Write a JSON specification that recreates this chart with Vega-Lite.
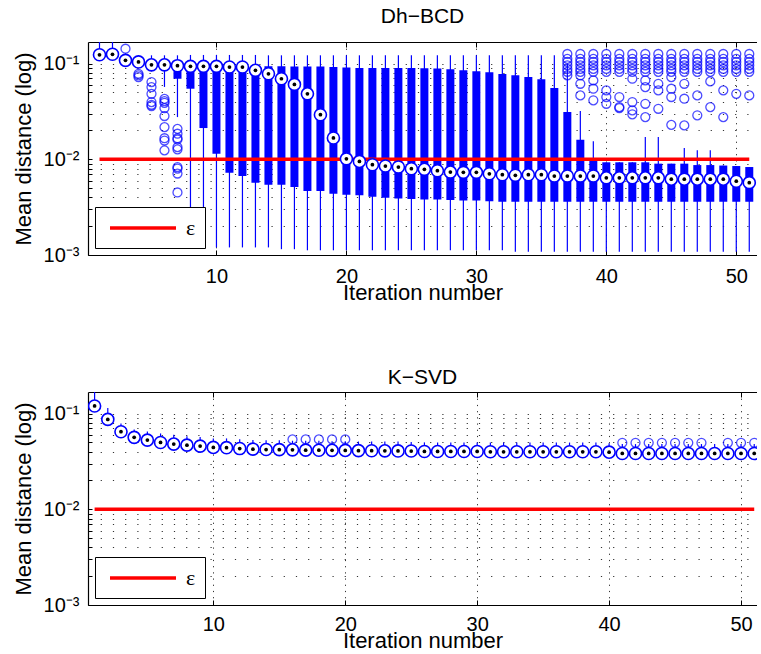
{
  "$schema": "https://vega.github.io/schema/vega-lite/v6.json",
  "padding": {"left": 12, "top": 5, "right": 0, "bottom": 0},
  "autosize": {"type": "pad"},
  "config": {
    "view": {"stroke": null},
    "font": "Liberation Sans",
    "axis": {"domainColor": "black", "tickColor": "black", "labelColor": "black", "titleColor": "black", "labelFont": "Liberation Sans", "titleFont": "Liberation Sans", "titleFontWeight": "normal", "domainWidth": 1.2, "tickWidth": 1},
    "axisY": {"values": [0.001,0.002,0.003,0.004,0.005,0.006,0.007,0.008,0.009,0.01,0.02,0.03,0.04,0.05,0.06,0.07,0.08,0.09,0.1],
      "labelExpr": "datum.value == 0.1 ? '10⁻¹' : datum.value == 0.01 ? '10⁻²' : datum.value == 0.001 ? '10⁻³' : ''",
      "titleFontSize": 22, "titlePadding": 8,
      "labelFontSize": 20, "labelPadding": 13, "tickSize": -4, "grid": true, "gridDash": [1.2, 11], "gridColor": "#333", "labelOverlap": false}
  },
  "datasets": {
    "eps": [{"x1": 1, "x2": 51, "v": 0.01, "label": "ε"}],
    "box1": [
      {"i":1,"lo":0.112,"q1":0.116,"med":0.1236,"q3":0.13,"hi":0.2},
      {"i":2,"lo":0.112,"q1":0.117,"med":0.125,"q3":0.132,"hi":0.2},
      {"i":3,"lo":0.097,"q1":0.102,"med":0.108,"q3":0.115,"hi":0.128},
      {"i":4,"lo":0.092,"q1":0.098,"med":0.104,"q3":0.11,"hi":0.122},
      {"i":5,"lo":0.083,"q1":0.09,"med":0.097,"q3":0.105,"hi":0.122},
      {"i":6,"lo":0.057,"q1":0.088,"med":0.097,"q3":0.105,"hi":0.122},
      {"i":7,"lo":0.0276,"q1":0.0694,"med":0.095,"q3":0.09,"hi":0.122},
      {"i":8,"lo":0.0015,"q1":0.0546,"med":0.0935,"q3":0.095,"hi":0.123},
      {"i":9,"lo":0.0012,"q1":0.0212,"med":0.0935,"q3":0.095,"hi":0.123},
      {"i":10,"lo":0.0012,"q1":0.0114,"med":0.0935,"q3":0.095,"hi":0.123},
      {"i":11,"lo":0.0012,"q1":0.00723,"med":0.092,"q3":0.095,"hi":0.123},
      {"i":12,"lo":0.0012,"q1":0.00668,"med":0.092,"q3":0.094,"hi":0.123},
      {"i":13,"lo":0.0012,"q1":0.00569,"med":0.085,"q3":0.0935,"hi":0.123},
      {"i":14,"lo":0.0012,"q1":0.00543,"med":0.0782,"q3":0.0935,"hi":0.122},
      {"i":15,"lo":0.00115,"q1":0.00542,"med":0.0694,"q3":0.0935,"hi":0.122},
      {"i":16,"lo":0.00115,"q1":0.00513,"med":0.0606,"q3":0.093,"hi":0.122},
      {"i":17,"lo":0.00112,"q1":0.00466,"med":0.0483,"q3":0.093,"hi":0.122},
      {"i":18,"lo":0.00112,"q1":0.00466,"med":0.0292,"q3":0.093,"hi":0.122},
      {"i":19,"lo":0.00112,"q1":0.00437,"med":0.0167,"q3":0.092,"hi":0.122},
      {"i":20,"lo":0.00112,"q1":0.00426,"med":0.0101,"q3":0.091,"hi":0.122},
      {"i":21,"lo":0.00112,"q1":0.0042,"med":0.0095,"q3":0.09,"hi":0.122},
      {"i":22,"lo":0.00112,"q1":0.00406,"med":0.00877,"q3":0.09,"hi":0.122},
      {"i":23,"lo":0.00112,"q1":0.00396,"med":0.0085,"q3":0.09,"hi":0.122},
      {"i":24,"lo":0.00112,"q1":0.0039,"med":0.0083,"q3":0.09,"hi":0.122},
      {"i":25,"lo":0.00112,"q1":0.00385,"med":0.00797,"q3":0.09,"hi":0.122},
      {"i":26,"lo":0.00112,"q1":0.0038,"med":0.00785,"q3":0.0895,"hi":0.122},
      {"i":27,"lo":0.00112,"q1":0.0038,"med":0.00759,"q3":0.089,"hi":0.122},
      {"i":28,"lo":0.00112,"q1":0.00375,"med":0.00735,"q3":0.087,"hi":0.122},
      {"i":29,"lo":0.00112,"q1":0.0037,"med":0.0073,"q3":0.085,"hi":0.122},
      {"i":30,"lo":0.00112,"q1":0.0037,"med":0.0073,"q3":0.083,"hi":0.122},
      {"i":31,"lo":0.00112,"q1":0.00365,"med":0.00706,"q3":0.081,"hi":0.122},
      {"i":32,"lo":0.00112,"q1":0.0036,"med":0.0069,"q3":0.078,"hi":0.122},
      {"i":33,"lo":0.00108,"q1":0.0036,"med":0.0068,"q3":0.0753,"hi":0.122},
      {"i":34,"lo":0.00108,"q1":0.0036,"med":0.0069,"q3":0.0722,"hi":0.122},
      {"i":35,"lo":0.00108,"q1":0.0036,"med":0.0069,"q3":0.0684,"hi":0.122},
      {"i":36,"lo":0.00108,"q1":0.0036,"med":0.00668,"q3":0.0555,"hi":0.122},
      {"i":37,"lo":0.00108,"q1":0.0036,"med":0.00668,"q3":0.0311,"hi":0.1},
      {"i":38,"lo":0.00108,"q1":0.0036,"med":0.00668,"q3":0.016,"hi":0.032},
      {"i":39,"lo":0.00108,"q1":0.0036,"med":0.00668,"q3":0.0098,"hi":0.0154},
      {"i":40,"lo":0.00108,"q1":0.0036,"med":0.0064,"q3":0.0093,"hi":0.0093},
      {"i":41,"lo":0.00108,"q1":0.0036,"med":0.0064,"q3":0.0093,"hi":0.0093},
      {"i":42,"lo":0.00108,"q1":0.0036,"med":0.0064,"q3":0.0093,"hi":0.0093},
      {"i":43,"lo":0.00108,"q1":0.0036,"med":0.0064,"q3":0.0093,"hi":0.0171},
      {"i":44,"lo":0.00108,"q1":0.0036,"med":0.0064,"q3":0.009,"hi":0.0171},
      {"i":45,"lo":0.00108,"q1":0.0036,"med":0.0062,"q3":0.009,"hi":0.009},
      {"i":46,"lo":0.00108,"q1":0.0036,"med":0.0062,"q3":0.009,"hi":0.0131},
      {"i":47,"lo":0.00108,"q1":0.0036,"med":0.0062,"q3":0.0087,"hi":0.0124},
      {"i":48,"lo":0.00108,"q1":0.0036,"med":0.0062,"q3":0.0087,"hi":0.0124},
      {"i":49,"lo":0.00108,"q1":0.0036,"med":0.0062,"q3":0.0086,"hi":0.0086},
      {"i":50,"lo":0.00108,"q1":0.0036,"med":0.0059,"q3":0.0085,"hi":0.0085},
      {"i":51,"lo":0.00108,"q1":0.0036,"med":0.0057,"q3":0.0083,"hi":0.0083}
    ],
    "out1": [
      {"i":3,"v":0.143},
      {"i":4,"v":0.0782},{"i":4,"v":0.0753},{"i":4,"v":0.0722},
      {"i":5,"v":0.0641},{"i":5,"v":0.0568},{"i":5,"v":0.0483},{"i":5,"v":0.0396},{"i":5,"v":0.0371},{"i":5,"v":0.036},
      {"i":6,"v":0.0428},{"i":6,"v":0.0405},{"i":6,"v":0.0389},{"i":6,"v":0.0343},{"i":6,"v":0.0283},{"i":6,"v":0.0217},{"i":6,"v":0.0166},{"i":6,"v":0.0157},{"i":6,"v":0.0124},
      {"i":7,"v":0.0208},{"i":7,"v":0.0185},{"i":7,"v":0.0166},{"i":7,"v":0.0161},{"i":7,"v":0.0134},{"i":7,"v":0.0127},{"i":7,"v":0.0083},{"i":7,"v":0.008},{"i":7,"v":0.0071},{"i":7,"v":0.0045},
      {"i":37,"v":0.126},{"i":37,"v":0.112},{"i":37,"v":0.104},{"i":37,"v":0.096},{"i":37,"v":0.088},{"i":37,"v":0.082},{"i":37,"v":0.0753},
      {"i":38,"v":0.126},{"i":38,"v":0.112},{"i":38,"v":0.104},{"i":38,"v":0.096},{"i":38,"v":0.088},{"i":38,"v":0.082},{"i":38,"v":0.0753},{"i":38,"v":0.0615},{"i":38,"v":0.0465},
      {"i":39,"v":0.126},{"i":39,"v":0.112},{"i":39,"v":0.104},{"i":39,"v":0.096},{"i":39,"v":0.088},{"i":39,"v":0.082},{"i":39,"v":0.0667},{"i":39,"v":0.0546},{"i":39,"v":0.0413},
      {"i":40,"v":0.126},{"i":40,"v":0.112},{"i":40,"v":0.104},{"i":40,"v":0.096},{"i":40,"v":0.088},{"i":40,"v":0.082},{"i":40,"v":0.0525},{"i":40,"v":0.0447},{"i":40,"v":0.038},
      {"i":41,"v":0.126},{"i":41,"v":0.112},{"i":41,"v":0.104},{"i":41,"v":0.096},{"i":41,"v":0.088},{"i":41,"v":0.082},{"i":41,"v":0.0447},{"i":41,"v":0.0351},{"i":41,"v":0.0343},
      {"i":42,"v":0.126},{"i":42,"v":0.112},{"i":42,"v":0.104},{"i":42,"v":0.096},{"i":42,"v":0.088},{"i":42,"v":0.082},{"i":42,"v":0.0694},{"i":42,"v":0.0396},{"i":42,"v":0.0324},{"i":42,"v":0.0295},
      {"i":43,"v":0.126},{"i":43,"v":0.112},{"i":43,"v":0.104},{"i":43,"v":0.096},{"i":43,"v":0.088},{"i":43,"v":0.082},{"i":43,"v":0.0667},{"i":43,"v":0.0568},{"i":43,"v":0.038},{"i":43,"v":0.0276},
      {"i":44,"v":0.126},{"i":44,"v":0.112},{"i":44,"v":0.104},{"i":44,"v":0.096},{"i":44,"v":0.088},{"i":44,"v":0.082},{"i":44,"v":0.0615},{"i":44,"v":0.0525},{"i":44,"v":0.0337},
      {"i":45,"v":0.126},{"i":45,"v":0.112},{"i":45,"v":0.104},{"i":45,"v":0.096},{"i":45,"v":0.088},{"i":45,"v":0.082},{"i":45,"v":0.0722},{"i":45,"v":0.0546},{"i":45,"v":0.0447},{"i":45,"v":0.0229},
      {"i":46,"v":0.126},{"i":46,"v":0.112},{"i":46,"v":0.104},{"i":46,"v":0.096},{"i":46,"v":0.088},{"i":46,"v":0.082},{"i":46,"v":0.0615},{"i":46,"v":0.0429},{"i":46,"v":0.0226},
      {"i":47,"v":0.126},{"i":47,"v":0.112},{"i":47,"v":0.104},{"i":47,"v":0.096},{"i":47,"v":0.088},{"i":47,"v":0.082},{"i":47,"v":0.0465},{"i":47,"v":0.0288},
      {"i":48,"v":0.126},{"i":48,"v":0.112},{"i":48,"v":0.104},{"i":48,"v":0.096},{"i":48,"v":0.088},{"i":48,"v":0.082},{"i":48,"v":0.0651},{"i":48,"v":0.0351},
      {"i":49,"v":0.126},{"i":49,"v":0.112},{"i":49,"v":0.104},{"i":49,"v":0.096},{"i":49,"v":0.088},{"i":49,"v":0.082},{"i":49,"v":0.0525},{"i":49,"v":0.0276},
      {"i":50,"v":0.126},{"i":50,"v":0.112},{"i":50,"v":0.104},{"i":50,"v":0.096},{"i":50,"v":0.088},{"i":50,"v":0.082},{"i":50,"v":0.0483},
      {"i":51,"v":0.126},{"i":51,"v":0.112},{"i":51,"v":0.104},{"i":51,"v":0.096},{"i":51,"v":0.088},{"i":51,"v":0.082},{"i":51,"v":0.0465}
    ],
    "box2": [
      {"i":1,"med":0.12,"hi":0.2},{"i":2,"med":0.0869,"hi":0.114},{"i":3,"med":0.0646,"hi":0.0789},{"i":4,"med":0.0564,"hi":0.0683},
      {"i":5,"med":0.0528,"hi":0.065},{"i":6,"med":0.0499,"hi":0.062},{"i":7,"med":0.048,"hi":0.06},{"i":8,"med":0.0468,"hi":0.058},
      {"i":9,"med":0.0457,"hi":0.057},{"i":10,"med":0.0443,"hi":0.055},{"i":11,"med":0.044,"hi":0.055},{"i":12,"med":0.0431,"hi":0.054},
      {"i":13,"med":0.0425,"hi":0.053},{"i":14,"med":0.0421,"hi":0.0525},{"i":15,"med":0.042,"hi":0.0525},{"i":16,"med":0.0418,"hi":0.052},
      {"i":17,"med":0.0415,"hi":0.052},{"i":18,"med":0.0414,"hi":0.052},{"i":19,"med":0.0413,"hi":0.0515},{"i":20,"med":0.0412,"hi":0.0515},
      {"i":21,"med":0.041,"hi":0.051},{"i":22,"med":0.0409,"hi":0.051},{"i":23,"med":0.0408,"hi":0.051},{"i":24,"med":0.0407,"hi":0.051},
      {"i":25,"med":0.0406,"hi":0.0505},{"i":26,"med":0.0402,"hi":0.05},{"i":27,"med":0.0402,"hi":0.05},{"i":28,"med":0.0402,"hi":0.05},
      {"i":29,"med":0.0402,"hi":0.05},{"i":30,"med":0.0402,"hi":0.05},{"i":31,"med":0.0399,"hi":0.0498},{"i":32,"med":0.0399,"hi":0.0498},
      {"i":33,"med":0.0399,"hi":0.0498},{"i":34,"med":0.0399,"hi":0.0498},{"i":35,"med":0.0399,"hi":0.0498},{"i":36,"med":0.0399,"hi":0.0498},
      {"i":37,"med":0.0399,"hi":0.0498},{"i":38,"med":0.0399,"hi":0.0498},{"i":39,"med":0.0399,"hi":0.0498},{"i":40,"med":0.0395,"hi":0.049},
      {"i":41,"med":0.0383,"hi":0.048},{"i":42,"med":0.0383,"hi":0.048},{"i":43,"med":0.0383,"hi":0.048},{"i":44,"med":0.0383,"hi":0.048},
      {"i":45,"med":0.0383,"hi":0.048},{"i":46,"med":0.0383,"hi":0.048},{"i":47,"med":0.0383,"hi":0.048},{"i":48,"med":0.0383,"hi":0.048},
      {"i":49,"med":0.0383,"hi":0.048},{"i":50,"med":0.0383,"hi":0.048},{"i":51,"med":0.0383,"hi":0.048}
    ],
    "out2": [
      {"i":16,"v":0.0537},{"i":17,"v":0.0537},{"i":18,"v":0.0537},{"i":19,"v":0.0537},{"i":20,"v":0.0537},
      {"i":41,"v":0.0495},{"i":42,"v":0.0495},{"i":43,"v":0.0495},{"i":44,"v":0.0495},{"i":45,"v":0.0495},
      {"i":46,"v":0.0495},{"i":47,"v":0.0495},{"i":49,"v":0.0495},{"i":50,"v":0.0495},{"i":51,"v":0.0495}
    ]
  },
  "resolve": {"scale": {"stroke": "independent"}, "legend": {"stroke": "independent"}},
  "spacing": 63,
  "vconcat": [
    {
      "title": {"text": "Dh−BCD", "fontSize": 21, "fontWeight": "normal", "font": "Liberation Sans", "color": "black", "anchor": "middle", "frame": "group", "baseline": "alphabetic", "offset": -2},
      "width": 669,
      "height": 213,
      "resolve": {"axis": {"x": "independent"}},
      "layer": [
        {
          "data": {"name": "box1"},
          "mark": {"type": "rule", "color": "#0000ff", "strokeWidth": 1.2, "clip": true},
          "encoding": {
            "x": {"field": "i", "type": "quantitative", "scale": {"domain": [0.5, 51.21], "nice": false, "zero": false},
              "axis": {"orient": "bottom", "values": [10, 20, 30, 40, 50], "title": "Iteration number", "titleFontSize": 22, "titleBaseline": "alphabetic", "titleY": 44, "labelFontSize": 20, "labelPadding": 16, "tickSize": -5, "grid": true, "gridDash": [1.2, 5], "gridColor": "#333", "labelFlush": false}},
            "y": {"field": "lo", "type": "quantitative", "scale": {"type": "log", "domain": [0.001, 0.168], "nice": false}, "title": "Mean distance (log)"},
            "y2": {"field": "hi"}
          }
        },
        {
          "data": {"name": "box1"},
          "mark": {"type": "bar", "color": "#0000ff", "size": 8, "clip": true},
          "encoding": {
            "x": {"field": "i", "type": "quantitative", "scale": {"domain": [0.5, 51.21], "nice": false, "zero": false}, "axis": null},
            "y": {"field": "q1", "type": "quantitative", "scale": {"type": "log", "domain": [0.001, 0.168], "nice": false}, "title": "Mean distance (log)"},
            "y2": {"field": "q3"}
          }
        },
        {
          "data": {"name": "eps"},
          "mark": {"type": "rule", "strokeWidth": 3.5, "clip": true},
          "encoding": {
            "x": {"field": "x1", "type": "quantitative", "scale": {"domain": [0.5, 51.21], "nice": false, "zero": false}, "axis": null},
            "x2": {"field": "x2"},
            "y": {"field": "v", "type": "quantitative", "scale": {"type": "log", "domain": [0.001, 0.168], "nice": false}, "title": "Mean distance (log)"},
            "stroke": {"field": "label", "type": "nominal", "scale": {"domain": ["ε"], "range": ["#ff0000"]},
              "legend": {"orient": "bottom-left", "offset": 7, "title": null, "fillColor": "white", "strokeColor": "black", "padding": 9,
                "symbolType": "M-0.6,0H6", "symbolSize": 400, "symbolStrokeWidth": 3.5, "labelOffset": 58,
                "labelFont": "Liberation Serif", "labelFontSize": 22, "labelColor": "black"}}
          }
        },
        {
          "data": {"name": "out1"},
          "mark": {"type": "point", "shape": "circle", "filled": false, "color": "#0000ff", "size": 80, "strokeWidth": 1.3, "clip": true},
          "encoding": {
            "x": {"field": "i", "type": "quantitative", "scale": {"domain": [0.5, 51.21], "nice": false, "zero": false}, "axis": null},
            "y": {"field": "v", "type": "quantitative", "scale": {"type": "log", "domain": [0.001, 0.168], "nice": false}, "title": "Mean distance (log)"}
          }
        },
        {
          "data": {"name": "box1"},
          "mark": {"type": "point", "shape": "circle", "filled": true, "fill": "white", "fillOpacity": 1, "stroke": "#0000ff", "strokeWidth": 1.6, "size": 145, "clip": true},
          "encoding": {
            "x": {"field": "i", "type": "quantitative", "scale": {"domain": [0.5, 51.21], "nice": false, "zero": false},
              "axis": {"orient": "top", "values": [10, 20, 30, 40, 50], "labels": false, "title": null, "tickSize": -5, "grid": false}},
            "y": {"field": "med", "type": "quantitative", "scale": {"type": "log", "domain": [0.001, 0.168], "nice": false}, "title": "Mean distance (log)"}
          }
        },
        {
          "data": {"name": "box1"},
          "mark": {"type": "point", "shape": "circle", "filled": true, "color": "black", "opacity": 1, "size": 14, "clip": true},
          "encoding": {
            "x": {"field": "i", "type": "quantitative", "scale": {"domain": [0.5, 51.21], "nice": false, "zero": false}, "axis": null},
            "y": {"field": "med", "type": "quantitative", "scale": {"type": "log", "domain": [0.001, 0.168], "nice": false}, "title": "Mean distance (log)"}
          }
        }
      ]
    },
    {
      "title": {"text": "K−SVD", "fontSize": 21, "fontWeight": "normal", "font": "Liberation Sans", "color": "black", "anchor": "middle", "frame": "group", "baseline": "alphabetic", "offset": -13},
      "width": 669,
      "height": 213,
      "resolve": {"axis": {"x": "independent"}},
      "layer": [
        {
          "data": {"name": "box2"},
          "mark": {"type": "rule", "color": "#0000ff", "strokeWidth": 1.2, "clip": true},
          "encoding": {
            "x": {"field": "i", "type": "quantitative", "scale": {"domain": [0.5, 51.21], "nice": false, "zero": false},
              "axis": {"orient": "bottom", "values": [10, 20, 30, 40, 50], "title": "Iteration number", "titleFontSize": 22, "titleBaseline": "alphabetic", "titleY": 42, "labelFontSize": 20, "labelPadding": 14.5, "tickSize": -5, "grid": true, "gridDash": [1.2, 5], "gridColor": "#333", "labelFlush": false}},
            "y": {"field": "med", "type": "quantitative", "scale": {"type": "log", "domain": [0.001, 0.168], "nice": false}, "title": "Mean distance (log)"},
            "y2": {"field": "hi"}
          }
        },
        {
          "data": {"name": "eps"},
          "mark": {"type": "rule", "strokeWidth": 3.5, "clip": true},
          "encoding": {
            "x": {"field": "x1", "type": "quantitative", "scale": {"domain": [0.5, 51.21], "nice": false, "zero": false}, "axis": null},
            "x2": {"field": "x2"},
            "y": {"field": "v", "type": "quantitative", "scale": {"type": "log", "domain": [0.001, 0.168], "nice": false}, "title": "Mean distance (log)"},
            "stroke": {"field": "label", "type": "nominal", "scale": {"domain": ["ε"], "range": ["#ff0000"]},
              "legend": {"orient": "bottom-left", "offset": 7, "title": null, "fillColor": "white", "strokeColor": "black", "padding": 9,
                "symbolType": "M-0.6,0H6", "symbolSize": 400, "symbolStrokeWidth": 3.5, "labelOffset": 58,
                "labelFont": "Liberation Serif", "labelFontSize": 22, "labelColor": "black"}}
          }
        },
        {
          "data": {"name": "out2"},
          "mark": {"type": "point", "shape": "circle", "filled": false, "color": "#0000ff", "size": 80, "strokeWidth": 1.3, "clip": true},
          "encoding": {
            "x": {"field": "i", "type": "quantitative", "scale": {"domain": [0.5, 51.21], "nice": false, "zero": false}, "axis": null},
            "y": {"field": "v", "type": "quantitative", "scale": {"type": "log", "domain": [0.001, 0.168], "nice": false}, "title": "Mean distance (log)"}
          }
        },
        {
          "data": {"name": "box2"},
          "mark": {"type": "point", "shape": "circle", "filled": true, "fill": "white", "fillOpacity": 1, "stroke": "#0000ff", "strokeWidth": 1.6, "size": 145, "clip": true},
          "encoding": {
            "x": {"field": "i", "type": "quantitative", "scale": {"domain": [0.5, 51.21], "nice": false, "zero": false},
              "axis": {"orient": "top", "values": [10, 20, 30, 40, 50], "labels": false, "title": null, "tickSize": -5, "grid": false}},
            "y": {"field": "med", "type": "quantitative", "scale": {"type": "log", "domain": [0.001, 0.168], "nice": false}, "title": "Mean distance (log)"}
          }
        },
        {
          "data": {"name": "box2"},
          "mark": {"type": "point", "shape": "circle", "filled": true, "color": "black", "opacity": 1, "size": 14, "clip": true},
          "encoding": {
            "x": {"field": "i", "type": "quantitative", "scale": {"domain": [0.5, 51.21], "nice": false, "zero": false}, "axis": null},
            "y": {"field": "med", "type": "quantitative", "scale": {"type": "log", "domain": [0.001, 0.168], "nice": false}, "title": "Mean distance (log)"}
          }
        }
      ]
    }
  ]
}
